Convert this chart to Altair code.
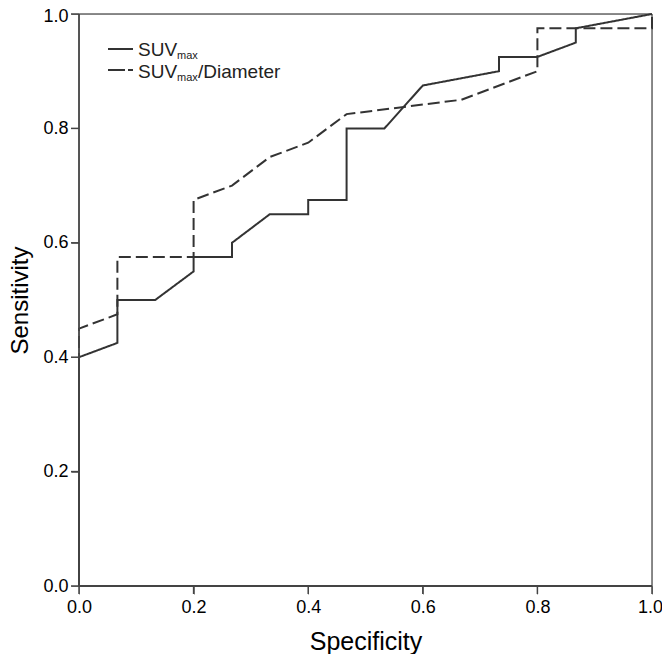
import altair as alt
import pandas as pd

# ROC curve: SUVmax (solid)
spec_suv = [0.0, 0.0, 0.067, 0.067, 0.133, 0.2, 0.2, 0.267, 0.267, 0.333, 0.4, 0.4,
            0.467, 0.467, 0.533, 0.6, 0.733, 0.733, 0.8, 0.867, 0.867, 1.0]
sens_suv = [0.0, 0.4, 0.425, 0.5, 0.5, 0.55, 0.575, 0.575, 0.6, 0.65, 0.65, 0.675,
            0.675, 0.8, 0.8, 0.875, 0.9, 0.925, 0.925, 0.95, 0.975, 1.0]

# ROC curve: SUVmax/Diameter (dashed)
spec_ratio = [0.0, 0.0, 0.067, 0.067, 0.2, 0.2, 0.267, 0.333, 0.4, 0.467, 0.667,
              0.8, 0.8, 1.0, 1.0]
sens_ratio = [0.0, 0.45, 0.475, 0.575, 0.575, 0.675, 0.7, 0.75, 0.775, 0.825, 0.85,
              0.9, 0.975, 0.975, 1.0]

series_names = ["SUVmax", "SUVmax/Diameter"]
tick_values = [0.0, 0.2, 0.4, 0.6, 0.8, 1.0]

rows = []
for i, (x, y) in enumerate(zip(spec_suv, sens_suv)):
    rows.append({"spec": x, "sens": y, "series": series_names[0], "ord": i})
for i, (x, y) in enumerate(zip(spec_ratio, sens_ratio)):
    rows.append({"spec": x, "sens": y, "series": series_names[1], "ord": i})
df = pd.DataFrame(rows)

INK = "#333333"
AXIS = "#444444"
FRAME = "#666666"
FONT = "Liberation Sans"
H = 572
TICK = 8

scale_x = alt.Scale(domain=[0, 1], nice=False, zero=False)
scale_y = alt.Scale(domain=[0, 1], nice=False, zero=False)

x_enc = alt.X(
    "spec:Q", scale=scale_x,
    axis=alt.Axis(values=tick_values, format=".1f", title="Specificity", grid=False,
                  domain=False, ticks=True, tickSize=TICK, labelFontSize=18,
                  labelPadding=4, labelFlush=False, titleFontSize=25,
                  labelOffset={"expr": "datum.value == 1 ? -2 : 0"},
                  titleFontWeight="normal", titleY=63, titleBaseline="alphabetic"),
)
y_enc = alt.Y(
    "sens:Q", scale=scale_y,
    axis=alt.Axis(values=tick_values, format=".1f", title="Sensitivity", grid=False,
                  domain=False, ticks=True, tickSize=TICK, labelFontSize=18,
                  labelPadding=3, labelFlush=False, titleFontSize=24,
                  labelOffset={"expr": "datum.value == 1 ? 2 : 0"},
                  titleFontWeight="normal", titleX=-59, titleY=286,
                  titleAngle=-90, titleBaseline="middle", titleAlign="center"),
)

lines = alt.Chart(df).mark_line(color=INK, strokeWidth=2).encode(
    x=x_enc,
    y=y_enc,
    order="ord:Q",
    detail="series:N",
    strokeDash=alt.StrokeDash(
        "series:N",
        scale=alt.Scale(domain=series_names, range=[[1, 0], [12, 5]]),
        legend=None,
    ),
)

# axis lines, frame and ticks drawn explicitly (positioned through the same scales)
ticks_df = pd.DataFrame({"v": tick_values})
x_ticks = alt.Chart(ticks_df).mark_rule(color=AXIS, strokeWidth=1.5).encode(
    x=alt.X("v:Q", scale=scale_x), y=alt.value(H), y2=alt.value(H + TICK))
y_ticks = alt.Chart(ticks_df).mark_rule(color=AXIS, strokeWidth=1.5).encode(
    y=alt.Y("v:Q", scale=scale_y), x=alt.value(-TICK), x2=alt.value(0))

edge_df = pd.DataFrame({"a": [0.0], "b": [1.0]})
x_dom = alt.Chart(edge_df).mark_rule(color=AXIS, strokeWidth=1.8).encode(
    x=alt.X("a:Q", scale=scale_x), x2="b:Q", y=alt.Y("a:Q", scale=scale_y))
y_dom = alt.Chart(edge_df).mark_rule(color=AXIS, strokeWidth=1.8).encode(
    y=alt.Y("a:Q", scale=scale_y), y2="b:Q", x=alt.X("a:Q", scale=scale_x))
top_edge = alt.Chart(edge_df).mark_rule(color=FRAME, strokeWidth=1.5).encode(
    x=alt.X("a:Q", scale=scale_x), x2="b:Q", y=alt.Y("b:Q", scale=scale_y))
right_edge = alt.Chart(edge_df).mark_rule(color=FRAME, strokeWidth=1.5).encode(
    y=alt.Y("a:Q", scale=scale_y), y2="b:Q", x=alt.X("b:Q", scale=scale_x))

one = pd.DataFrame({"k": [0]})
leg_solid = alt.Chart(one).mark_rule(color=INK, strokeWidth=2).encode(
    x=alt.value(29), x2=alt.value(54), y=alt.value(35))
leg_dash = alt.Chart(one).mark_rule(color=INK, strokeWidth=2, strokeDash=[17, 3, 5, 100]).encode(
    x=alt.value(29), x2=alt.value(54), y=alt.value(56))

def txt(s, x, y, size):
    return alt.Chart(one).mark_text(align="left", baseline="alphabetic", fontSize=size,
                                    font=FONT, color="#222222").encode(
        x=alt.value(x), y=alt.value(y), text=alt.value(s))

legend = (txt("SUV", 59, 42, 19) + txt("max", 98, 45, 11)
          + txt("SUV", 59, 64, 19) + txt("max", 98, 67, 11)
          + txt("/Diameter", 119, 64, 19))

chart = alt.layer(top_edge, right_edge, lines, x_ticks, y_ticks, x_dom, y_dom,
                  leg_solid, leg_dash, legend).properties(
    width=573, height=H,
    autosize=alt.AutoSizeParams(type="none"),
    padding={"left": 71, "top": 6, "right": 10, "bottom": 68},
).configure_view(
    stroke="transparent",
).configure_axis(
    tickColor=AXIS, tickWidth=1.5,
    labelColor="#222222", titleColor="#222222", labelFont=FONT, titleFont=FONT,
).configure(background="white")

chart.save("out.html", embed_options={"renderer": "svg", "actions": False})
